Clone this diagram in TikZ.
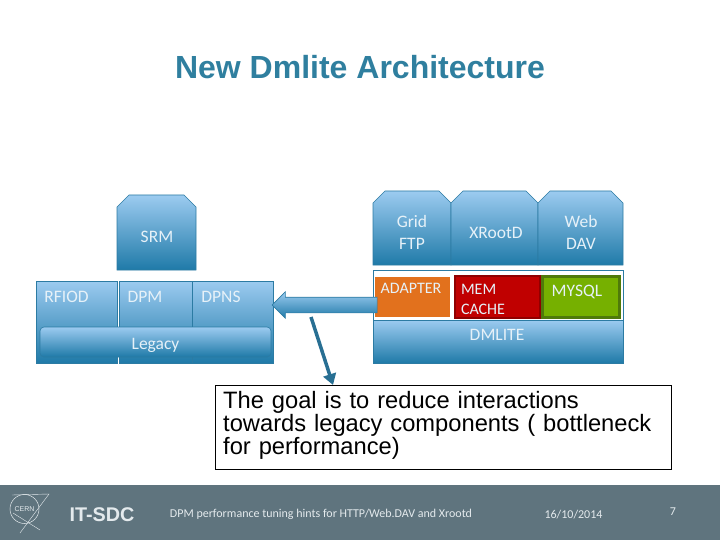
\documentclass[tikz,border=0pt]{standalone}
\usepackage{fontspec}
\setmainfont{Liberation Sans}
\newfontfamily\boxfont{Carlito}
\usetikzlibrary{shapes.arrows,arrows.meta}
\definecolor{titleblue}{HTML}{2F7F9F}
\definecolor{boxtop}{HTML}{9CCBF0}
\definecolor{boxmid}{HTML}{6FAAD4}
\definecolor{boxlow}{HTML}{1F7AA8}
\definecolor{boxline}{HTML}{2C7BA3}
\definecolor{boxtext}{HTML}{E6F1F8}
\definecolor{footgray}{HTML}{5F747E}
\definecolor{footlight}{HTML}{E4EAED}
\definecolor{adapterorange}{HTML}{E2711D}
\definecolor{cachered}{HTML}{C00000}
\definecolor{sqlgreen}{HTML}{76B000}
\definecolor{sqlline}{HTML}{4F7A0A}
\tikzset{
	bluefill/.style={draw=boxline, line width=.6pt, top color=boxtop, middle color=boxmid, bottom color=boxlow, outer sep=0pt, inner sep=0pt},
	bluebox/.style={rectangle, bluefill},
	boxlabel/.style={font=\boxfont\fontsize{17.5}{22}\selectfont, text=boxtext, align=center, inner sep=0pt},
	cachelabel/.style={font=\boxfont\fontsize{16}{20}\selectfont, text=boxtext, align=left, inner sep=0pt},
	footlabel/.style={text=footlight, inner sep=0pt},
	footsmall/.style={footlabel, font=\boxfont\fontsize{12}{14}\selectfont}
}
\begin{document}
\begin{tikzpicture}[x=1pt, y=-1pt]
	\useasboundingbox (0,0) rectangle (720,540);
	%title
	\node[text=titleblue, font=\bfseries\fontsize{32}{38}\selectfont, inner sep=0pt] (title) at (360,67) {New Dmlite Architecture};
	%snipped boxes
	\foreach \xa/\xb/\ya/\yb in {117/196/195/270, 373/451/191/265, 451/538/191/265, 538/623/191/265}
	\shade[bluefill] (\xa,\yb) -- (\xa,\ya+12) -- (\xa+12,\ya) -- (\xb-12,\ya) -- (\xb,\ya+12) -- (\xb,\yb) -- cycle;
	%legacy side
	\foreach \name/\cx/\bw in {rfiod/76.5/81, dpm/155.5/73, dpns/232.5/81}
	\node[bluebox, minimum width=\bw pt, minimum height=82pt] (\name) at (\cx,322) {};
	\node[bluebox, rounded corners=4pt, minimum width=231pt, minimum height=30pt] (legacy) at (155.5,342) {};
	\foreach \name/\cx/\cy/\ltext in {
		srmtext/157/236.5/SRM,
		rfiodtext/66.5/296.5/RFIOD,
		dpmtext/145/296.5/DPM,
		dpnstext/221/296.5/DPNS,
		legacytext/157.5/345/Legacy
	}
	\node[boxlabel] (\name) at (\cx,\cy) {\ltext};
	%dmlite side
	\node[draw=boxline, line width=.6pt, minimum width=250pt, minimum height=50pt, inner sep=0pt] (cachearea) at (498,295) {};
	\node[bluebox, minimum width=250pt, minimum height=43pt] (dmlite) at (498,341.5) {};
	\node[fill=adapterorange, minimum width=75pt, minimum height=40pt, inner sep=0pt] (adapter) at (412.5,297) {};
	\node[fill=cachered, draw=cachered!75!black, line width=2pt, minimum width=85pt, minimum height=42pt, inner sep=0pt] (memcache) at (497.5,297) {};
	\node[fill=sqlgreen, draw=sqlline, line width=3pt, minimum width=77pt, minimum height=41pt, inner sep=0pt] (mysql) at (581,297) {};
	\foreach \name/\cx/\cy/\ltext in {
		gridtext/412/232.5/{Grid\\FTP},
		xroottext/496/232.5/XRootD,
		webtext/581/232.5/{Web\\DAV},
		mysqltext/577/292/MYSQL,
		dmlitetext/499/334.5/DMLITE
	}
	\node[boxlabel] (\name) at (\cx,\cy) {\ltext};
	\node[cachelabel] (adaptertext) at (411,288) {ADAPTER};
	\node[cachelabel] (memtext) at (483,299) {MEM\\CACHE};
	%arrows
	\node[single arrow, shape border rotate=180, bluefill, inner xsep=0pt, inner ysep=7.5pt, minimum height=105pt, minimum width=26pt, single arrow head extend=5.5pt, single arrow tip angle=90] (backarrow) at (328.5,305) {};
	%goal box
	\node[draw=black, line width=.8pt, minimum width=456pt, minimum height=84pt, inner sep=0pt] (goal) at (443,427) {};
	\node[text width=440pt, inner sep=0pt, font=\fontsize{23.7}{23}\selectfont, anchor=north west] (goaltext) at (223,391.5) {The goal is to reduce interactions\\towards legacy components ( bottleneck\\for performance)};
	\coordinate (goalfrom) at (311,317);
	\coordinate (goalto) at (333,385);
	\draw[-{Triangle[length=11pt,width=13pt]}, line width=3.5pt, color=boxline!90!black] (goalfrom) -- (goalto);
	%footer
	\fill[footgray] (0,485) rectangle (720,540);
	\node[draw=footlight, circle, line width=.5pt, minimum size=29pt, inner sep=0pt, text=footlight, font=\fontsize{7}{7}\selectfont] (cern) at (24.5,509) {CERN};
	\coordinate (logoa) at (12,495);
	\coordinate (logob) at (49,494);
	\coordinate (logoc) at (20,533);
	\coordinate (logod) at (13,513);
	\coordinate (logoe) at (40,530);
	\draw[footlight, line width=.4pt] (logoa) -- (logob) -- (logoc);
	\draw[footlight, line width=.4pt] (logod) -- (logoe);
	\node[footlabel, font=\bfseries\fontsize{19.8}{22}\selectfont] (itsdc) at (102,514.5) {IT-SDC};
	\node[footsmall] (talk) at (321,514.5) {DPM performance tuning hints for HTTP/Web.DAV and Xrootd};
	\node[footsmall] (date) at (573.5,514.5) {16/10/2014};
	\node[footsmall] (pagenum) at (673,512) {7};
\end{tikzpicture}
\end{document}
